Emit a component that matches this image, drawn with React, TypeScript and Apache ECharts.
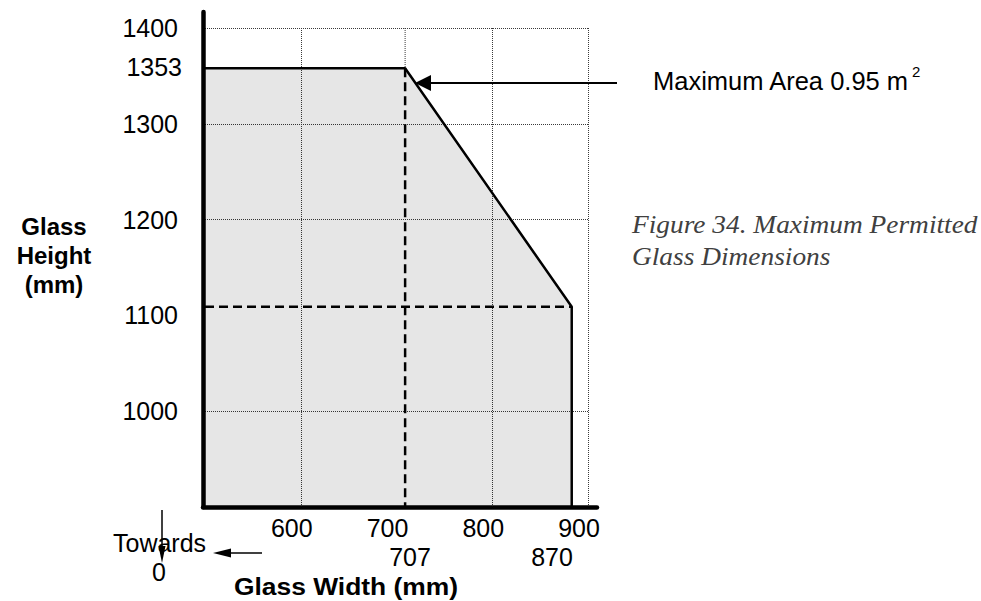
import React, { useEffect, useRef } from "react";
import * as echarts from "echarts";

// Envelope of permitted glass sizes (as drawn in the figure)
const envelopeWidth = [500, 709, 883, 883];
const envelopeHeight = [1358, 1358, 1109, 900];
// Dashed construction lines
const widthMarkerX = [709, 709];
const widthMarkerY = [1358, 900];
const heightMarkerX = [500, 883];
const heightMarkerY = [1109, 1109];
// Dotted grid stub above the 707 corner
const gridStubX = [709, 709];
const gridStubY = [1400, 1358];
// Axis ranges and ticks
const xRange = [500, 900];
const yRange = [900, 1400];
const tickStep = 100;
const hiddenYTicks = [900];
const hiddenXTicks = [500];
// Extra annotation labels
const extraYLabel = "1353";
const extraXLabels = ["707", "870"];

const SANS = "Liberation Sans";

export default function App() {
  const ref = useRef<HTMLDivElement>(null);
  useEffect(() => {
    const chart = echarts.init(ref.current!, null, { renderer: "svg" });
    const pair = (xs: number[], ys: number[]) => xs.map((x, i) => [x, ys[i]]);
    const grid = "#3a3a3a";
    const none = "rgba(0,0,0,0)";
    chart.setOption({
      animation: false,
      grid: [
        { left: 205, top: 28, width: 383, height: 479 },
        { left: 203, top: 12, width: 394, height: 495 },
      ],
      xAxis: [
        {
          gridIndex: 0,
          type: "value",
          min: xRange[0],
          max: xRange[1],
          interval: tickStep,
          axisLine: { show: false },
          axisTick: { show: false },
          axisLabel: {
            margin: 8,
            fontFamily: SANS,
            fontSize: 25,
            color: "#000",
            padding: [0, 18, 0, 0],
            formatter: (v: number) => (hiddenXTicks.includes(v) ? "" : String(v)),
          },
          splitLine: {
            show: true,
            lineStyle: { color: [none, grid, none, grid, grid], width: 1, type: [1, 1] },
          },
        },
        {
          gridIndex: 1,
          type: "value",
          min: 0,
          max: 1,
          axisLine: { show: true, onZero: false, lineStyle: { color: "#000", width: 4.5 } },
          axisTick: { show: false },
          axisLabel: { show: false },
          splitLine: { show: false },
        },
      ],
      yAxis: [
        {
          gridIndex: 0,
          type: "value",
          min: yRange[0],
          max: yRange[1],
          interval: tickStep,
          axisLine: { show: false },
          axisTick: { show: false },
          axisLabel: {
            margin: 27,
            fontFamily: SANS,
            fontSize: 25,
            color: "#000",
            formatter: (v: number) => (hiddenYTicks.includes(v) ? "" : String(v)),
          },
          splitLine: {
            show: true,
            lineStyle: {
              color: [none, grid, none, grid, grid, grid],
              width: 1,
              type: [1, 1],
            },
          },
        },
        {
          gridIndex: 1,
          type: "value",
          min: 0,
          max: 1,
          axisLine: { show: true, onZero: false, lineStyle: { color: "#000", width: 4.5 } },
          axisTick: { show: false },
          axisLabel: { show: false },
          splitLine: { show: false },
        },
      ],
      series: [
        {
          type: "line",
          xAxisIndex: 0,
          yAxisIndex: 0,
          data: pair(gridStubX, gridStubY),
          showSymbol: false,
          symbol: "none",
          lineStyle: { color: grid, width: 1, type: [1, 1] },
          z: 1,
        },
        {
          type: "line",
          xAxisIndex: 0,
          yAxisIndex: 0,
          data: pair(envelopeWidth, envelopeHeight),
          showSymbol: false,
          symbol: "none",
          lineStyle: { color: "#000", width: 2.5 },
          areaStyle: { color: "rgba(0,0,0,0.14)", origin: "start" },
          z: 3,
        },
        {
          type: "line",
          xAxisIndex: 0,
          yAxisIndex: 0,
          data: pair(widthMarkerX, widthMarkerY),
          showSymbol: false,
          symbol: "none",
          lineStyle: { color: "#000", width: 2.5, type: [9, 5] },
          z: 4,
        },
        {
          type: "line",
          xAxisIndex: 0,
          yAxisIndex: 0,
          data: pair(heightMarkerX, heightMarkerY),
          showSymbol: false,
          symbol: "none",
          lineStyle: { color: "#000", width: 2.5, type: [9, 5] },
          z: 4,
        },
      ],
      graphic: [
        // y-axis title
        {
          type: "text",
          x: 54,
          y: 255,
          style: {
            text: "Glass\nHeight\n(mm)",
            fontFamily: SANS,
            fontWeight: "bold",
            fontSize: 24,
            lineHeight: 29,
            fill: "#000",
            align: "center",
            verticalAlign: "middle",
          },
        },
        // x-axis title
        {
          type: "text",
          x: 346,
          y: 586,
          scaleX: 1.1,
          style: {
            text: "Glass Width (mm)",
            fontFamily: SANS,
            fontWeight: "bold",
            fontSize: 24,
            fill: "#000",
            align: "center",
            verticalAlign: "middle",
          },
        },
        // 1353 label
        {
          type: "text",
          x: 182,
          y: 67,
          style: {
            text: extraYLabel,
            fontFamily: SANS,
            fontSize: 25,
            fill: "#000",
            align: "right",
            verticalAlign: "middle",
          },
        },
        {
          type: "text",
          x: 410,
          y: 557,
          style: { text: extraXLabels[0], fontFamily: SANS, fontSize: 25, fill: "#000", align: "center", verticalAlign: "middle" },
        },
        {
          type: "text",
          x: 552,
          y: 557,
          style: { text: extraXLabels[1], fontFamily: SANS, fontSize: 25, fill: "#000", align: "center", verticalAlign: "middle" },
        },
        // Towards 0
        {
          type: "text",
          x: 113,
          y: 543,
          style: { text: "Towards", fontFamily: SANS, fontSize: 25, fill: "#000", align: "left", verticalAlign: "middle" },
        },
        {
          type: "text",
          x: 159,
          y: 572,
          style: { text: "0", fontFamily: SANS, fontSize: 25, fill: "#000", align: "center", verticalAlign: "middle" },
        },
        { type: "line", shape: { x1: 162, y1: 510, x2: 162, y2: 550 }, style: { stroke: "#000", lineWidth: 1.5 }, z: 10 },
        { type: "polygon", shape: { points: [[158.5, 546], [165.5, 546], [162, 563]] }, style: { fill: "#000" }, z: 10 },
        { type: "line", shape: { x1: 262, y1: 553, x2: 228, y2: 553 }, style: { stroke: "#000", lineWidth: 1.5 }, z: 10 },
        { type: "polygon", shape: { points: [[213, 553], [231, 548.5], [231, 557.5]] }, style: { fill: "#000" }, z: 10 },
        // Maximum area arrow
        { type: "line", shape: { x1: 617, y1: 83, x2: 428, y2: 83 }, style: { stroke: "#000", lineWidth: 2 }, z: 10 },
        { type: "polygon", shape: { points: [[415, 83], [431, 75], [431, 91]] }, style: { fill: "#000" }, z: 10 },
        {
          type: "text",
          x: 653,
          y: 81,
          style: { text: "Maximum Area 0.95 m", fontFamily: SANS, fontSize: 25.5, fill: "#000", align: "left", verticalAlign: "middle" },
        },
        {
          type: "text",
          x: 912,
          y: 71,
          style: { text: "2", fontFamily: SANS, fontSize: 15, fill: "#000", align: "left", verticalAlign: "middle" },
        },
        // Caption
        {
          type: "text",
          x: 632,
          y: 241,
          scaleX: 1.095,
          style: {
            text: "Figure 34. Maximum Permitted\nGlass Dimensions",
            fontFamily: "Liberation Serif",
            fontStyle: "italic",
            fontSize: 25,
            lineHeight: 32,
            fill: "#404040",
            align: "left",
            verticalAlign: "middle",
          },
        },
      ],
    });
    return () => chart.dispose();
  }, []);
  return <div ref={ref} style={{ position: "absolute", left: 0, top: 0, width: 981, height: 601 }} />;
}
